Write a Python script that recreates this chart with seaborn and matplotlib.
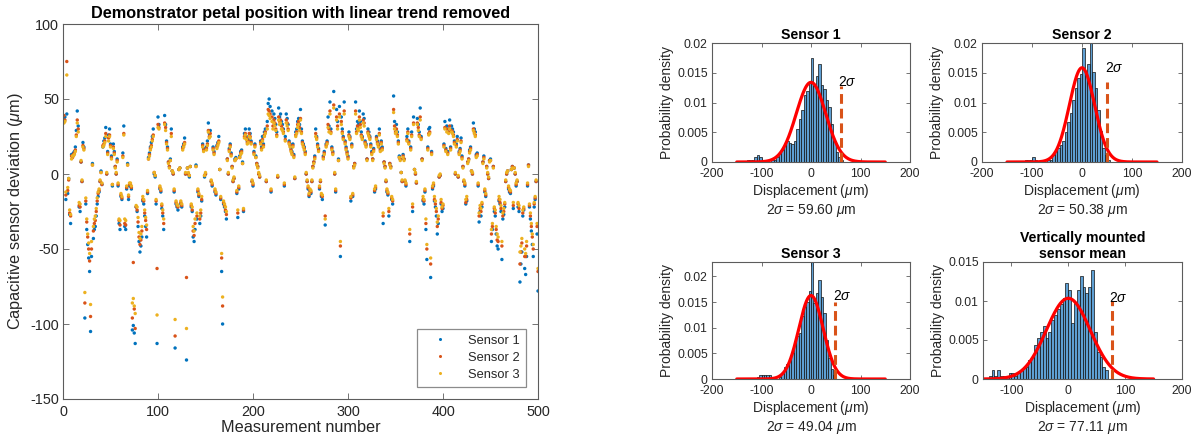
import numpy as np
import pandas as pd
import matplotlib
matplotlib.use("Agg")
import matplotlib.pyplot as plt
import matplotlib.ticker as mticker
from matplotlib.lines import Line2D
import seaborn as sns

# ---------------- data ----------------
measurement = list(range(1, 501))

sensor1 = [
    37, 38, -17, 40, -13, -3, -27, -33, 13, 12,
    14, 15, 18, 29, 42, 32, -22, -25, 8, -5,
    21, 18, -96, -20, -37, -47, -56, -65, -105, -55,
    7, -43, -37, -35, -28, -20, -15, -12, -5, 2,
    -7, 18, 22, 24, 31, 0, 15, 26, 30, 20,
    12, -8, 20, 15, 5, 0, 10, -8, -33, -37,
    -15, -17, 14, 32, -35, -37, -10, 7, -17, -8,
    -8, -10, -104, -101, -106, -113, -22, -25, -35, -45,
    -52, -48, -42, -18, -20, -28, -35, -42, -13, 11,
    14, 18, 21, 25, 30, 0, -2, -20, -113, 38,
    33, -10, -12, -23, -28, -37, 39, 33, 22, 18,
    8, 5, 10, 30, 2, 0, -12, -116, -20, -22,
    -24, 3, 4, -20, -22, 18, 20, 24, 0, -124,
    4, 0, -2, 5, -22, -25, -42, -45, -37, 6,
    -30, -12, -15, -33, -28, -18, 20, 17, -2, 0,
    18, 22, 34, 27, 29, -5, -8, 18, 15, -12,
    -14, 19, 21, 25, 3, -17, -65, -100, -20, -22,
    -25, -30, 10, 0, 17, 20, 14, 5, -5, -3,
    10, 11, -13, -29, -10, 12, 15, 16, 8, -25,
    27, 30, 25, 22, 23, 30, 27, 22, -5, -8,
    15, 20, 12, 7, 5, 0, -2, 22, 18, 25,
    20, 28, 30, -5, 35, 47, 50, 45, -12, 42,
    35, 40, 37, 33, 28, -2, 44, 38, 40, 35,
    33, 30, -8, 25, 40, 37, 33, 22, 20, 17,
    15, 20, 13, -3, 28, 30, 35, 37, 33, 43,
    30, 22, 20, 18, 15, 0, -5, -10, -15, -12,
    -13, -5, 5, 8, 12, 30, 25, 20, 17, -10,
    -5, -15, -17, 12, 15, -34, 20, 22, 38, 32,
    48, 30, 18, 15, 55, 0, -12, 43, 35, 10,
    45, -55, 38, 30, 25, 48, 22, 18, 15, 12,
    28, 25, -18, 20, -15, 5, 7, 48, 30, 35,
    33, 42, 35, 28, 25, 40, 37, 22, 20, 10,
    30, 28, 25, 20, 15, 10, 17, -12, -10, 25,
    22, 20, 30, 17, 22, 18, -33, 8, 5, -5,
    -12, -14, -28, 7, 5, -17, -20, 52, 35, 30,
    33, 28, 22, 12, 10, 1, -5, 13, 10, -5,
    -8, 25, 30, 22, -45, 18, 28, -25, 38, 3,
    0, -6, 37, 33, 28, 44, 25, 10, -18, -20,
    -12, -37, -57, 18, 30, 31, -69, 15, -10, -8,
    -18, -22, -28, -40, -33, -2, -1, -20, -25, -23,
    20, 35, 17, 32, 15, 30, 36, 18, 32, 30,
    28, 22, 0, 20, 25, -2, 15, 17, 24, 12,
    5, -5, -8, -20, -18, 8, 10, 16, 18, 2,
    0, 34, 30, 28, 13, 14, -8, -32, -25, -28,
    -22, 8, 12, -12, -15, 5, 0, -3, 9, 10,
    -45, -37, 5, -25, -28, -40, -48, -50, -18, -20,
    -25, -57, -30, -27, -22, -5, 0, 2, -10, -12,
    -13, 3, 5, -23, 4, 0, -8, -5, -22, -25,
    -72, -60, -52, -28, -24, -63, -67, -55, -8, 6,
    -22, -30, -38, -47, -55, -22, -17, -5, -40, -78,
]

sensor2 = [
    39, 36, -14, 75, -11, -4, -26, -28, 12, 11,
    13, 14, 16, 26, 36, 30, -21, -22, 8, -5,
    19, 17, -86, -18, -32, -42, -50, -58, -95, -50,
    6, -38, -33, -31, -25, -18, -13, -11, -5, 1,
    -7, 19, 20, 22, 27, 0, 14, 24, 26, 19,
    11, -7, 18, 14, 5, 0, 9, -7, -31, -34,
    -14, -16, 12, 27, -33, -34, -9, 6, -15, -7,
    -7, -9, -96, -59, -90, -103, -22, -24, -32, -42,
    -47, -44, -38, -17, -18, -26, -31, -37, -12, 10,
    13, 17, 19, 23, 26, 1, -1, -18, -63, 33,
    31, -9, -11, -21, -26, -33, 34, 31, 21, 17,
    8, 5, 9, 27, 2, 0, -11, -108, -19, -21,
    -22, 3, 4, -19, -21, 17, 19, 21, 0, -69,
    4, 0, -1, 5, -21, -24, -38, -41, -33, 5,
    -28, -11, -14, -30, -26, -17, 19, 16, -1, 0,
    17, 20, 29, 25, 27, -5, -7, 17, 14, -11,
    -13, 18, 20, 22, 3, -16, -56, -88, -19, -21,
    -24, -27, 10, 0, 16, 19, 13, 5, -5, -3,
    9, 10, -12, -26, -9, 11, 14, 15, 7, -24,
    25, 27, 24, 21, 22, 27, 25, 21, -5, -7,
    14, 19, 11, 7, 5, 0, -2, 21, 17, 23,
    19, 26, 28, -5, 32, 43, 42, 40, -11, 38,
    32, 36, 34, 30, 26, -2, 38, 35, 36, 32,
    30, 28, -7, 23, 36, 34, 30, 21, 19, 16,
    14, 19, 12, -3, 26, 28, 33, 35, 31, 37,
    28, 21, 19, 17, 14, 0, -5, -9, -14, -11,
    -12, -5, 5, 8, 11, 27, 24, 19, 16, -9,
    -5, -14, -15, 11, 14, -28, 19, 21, 33, 30,
    42, 28, 17, 14, 46, 0, -11, 38, 32, 9,
    40, -48, 35, 28, 24, 42, 21, 17, 14, 11,
    26, 24, -16, 19, -14, 5, 7, 42, 28, 32,
    31, 38, 33, 26, 24, 36, 34, 21, 19, 10,
    28, 26, 24, 19, 14, 10, 16, -11, -9, 24,
    21, 19, 27, 16, 21, 17, -28, 8, 5, -5,
    -11, -13, -25, 7, 5, -16, -18, 43, 32, 28,
    30, 26, 21, 11, 10, 1, -5, 12, 10, -5,
    -7, 23, 28, 21, -40, 17, 26, -22, 34, 3,
    0, -6, 34, 31, 26, 38, 24, 10, -17, -18,
    -11, -33, -50, 17, 27, 28, -60, 14, -9, -7,
    -17, -20, -25, -35, -30, -2, -1, -19, -23, -21,
    19, 31, 16, 30, 14, 28, 32, 17, 29, 28,
    26, 21, 0, 19, 23, -2, 14, 16, 22, 11,
    5, -5, -7, -19, -17, 8, 10, 15, 17, 2,
    0, 30, 28, 26, 12, 13, -7, -28, -23, -25,
    -20, 8, 11, -11, -14, 5, 0, -3, 9, 9,
    -40, -35, 5, -23, -26, -37, -44, -45, -17, -19,
    -23, -48, -28, -25, -20, -5, 0, 2, -9, -11,
    -12, 3, 5, -21, 4, 0, -7, -5, -20, -23,
    -60, -52, -46, -26, -23, -55, -55, -48, -7, 6,
    -21, -28, -35, -42, -50, -20, -16, -5, -35, -65,
]

sensor3 = [
    34, 35, -12, 66, -9, -3, -24, -27, 10, 12,
    12, 13, 15, 25, 34, 28, -19, -20, 9, -4,
    18, 16, -79, -16, -30, -40, -46, -53, -87, -45,
    6, -35, -30, -28, -23, -16, -12, -10, -4, 1,
    -6, 18, 19, 21, 25, 1, 13, 22, 25, 18,
    10, -7, 17, 13, 4, 1, 8, -6, -30, -31,
    -13, -15, 11, 26, -30, -31, -8, 6, -14, -6,
    -6, -8, -86, -83, -88, -93, -21, -22, -29, -39,
    -43, -40, -35, -15, -17, -24, -29, -34, -11, 10,
    12, 16, 18, 22, 25, 1, -1, -17, -94, 31,
    30, -8, -10, -20, -24, -30, 33, 29, 20, 16,
    7, 4, 9, 25, 2, 1, -10, -97, -18, -20,
    -21, 3, 4, -18, -20, 16, 18, 20, 1, -103,
    4, 1, -1, 5, -20, -22, -35, -38, -30, 5,
    -26, -10, -13, -28, -24, -15, 18, 15, -1, 1,
    16, 19, 28, 24, 25, -4, -6, 16, 13, -10,
    -12, 17, 19, 21, 3, -15, -53, -82, -18, -20,
    -22, -25, 9, 1, 15, 18, 12, 4, -4, -2,
    9, 10, -11, -24, -8, 11, 13, 14, 7, -23,
    24, 26, 23, 20, 21, 25, 24, 20, -4, -6,
    13, 18, 11, 6, 4, 1, -1, 20, 16, 22,
    18, 25, 27, -4, 30, 40, 39, 37, -10, 35,
    30, 34, 32, 29, 25, -1, 36, 33, 34, 30,
    29, 27, -6, 22, 34, 32, 29, 20, 18, 15,
    13, 18, 11, -2, 25, 27, 31, 33, 29, 36,
    27, 20, 18, 16, 13, 1, -4, -8, -13, -10,
    -11, -4, 4, 7, 10, 25, 23, 18, 15, -8,
    -4, -13, -14, 10, 13, -30, 18, 20, 31, 28,
    40, 27, 16, 13, 44, 1, -10, 36, 30, 9,
    38, -45, 33, 27, 23, 40, 20, 16, 13, 10,
    25, 23, -15, 18, -13, 4, 6, 40, 27, 30,
    29, 36, 31, 25, 23, 34, 32, 20, 18, 9,
    27, 25, 23, 18, 13, 9, 15, -10, -8, 23,
    20, 18, 26, 15, 20, 16, -26, 7, 4, -4,
    -10, -12, -23, 6, 4, -15, -17, 41, 30, 27,
    28, 25, 20, 11, 9, 1, -4, 11, 9, -4,
    -6, 22, 27, 20, -37, 16, 25, -20, 33, 3,
    1, -5, 33, 29, 25, 36, 23, 9, -15, -17,
    -10, -30, -47, 16, 26, 27, -56, 13, -8, -6,
    -15, -18, -23, -32, -28, -1, 0, -17, -22, -20,
    18, 30, 15, 28, 13, 27, 30, 16, 28, 27,
    25, 20, 1, 18, 22, -1, 13, 15, 21, 10,
    4, -4, -6, -17, -15, 7, 9, 14, 16, 2,
    1, 29, 27, 25, 11, 12, -6, -26, -21, -23,
    -19, 7, 10, -10, -13, 4, 1, -2, 8, 9,
    -37, -33, 4, -22, -24, -35, -40, -42, -15, -17,
    -21, -45, -26, -23, -19, -4, 1, 2, -8, -10,
    -11, 3, 4, -19, 4, 1, -6, -4, -19, -21,
    -52, -48, -43, -24, -22, -50, -53, -45, -6, 5,
    -20, -26, -33, -40, -47, -19, -15, -4, -33, -63,
]

sensor_names = ["Sensor 1", "Sensor 2", "Sensor 3"]

# histogram data (bin width in um, first bin left edge, density per bin)
bin_width = 5
hist1_start = -130
hist1_density = [0.0004, 0.0004, 0.0004, 0.0008, 0.0012, 0.0008, 0.0004, 0, 0, 0,
                 0.0004, 0.0004, 0.0008, 0.0016, 0.0020, 0.0028, 0.0036, 0.0032, 0.0030, 0.0036,
                 0.0056, 0.0072, 0.0088, 0.0112, 0.0120, 0.0132, 0.0175, 0.0128, 0.0144, 0.0165,
                 0.0130, 0.0122, 0.0105, 0.0092, 0.0064, 0.0036, 0.0016, 0.0008, 0.0004]
hist2_start = -115
hist2_density = [0.0004, 0.0004, 0.0004, 0.0008, 0.0004, 0, 0, 0, 0, 0.0004,
                 0.0004, 0.0012, 0.0020, 0.0024, 0.0028, 0.0036, 0.0050, 0.0068, 0.0082, 0.0104,
                 0.0124, 0.0142, 0.0148, 0.0192, 0.0148, 0.0165, 0.0215, 0.0152, 0.0124, 0.0088,
                 0.0052, 0.0024, 0.0012, 0.0004]
hist3_start = -110
hist3_density = [0.0004, 0.0008, 0.0008, 0.0008, 0.0008, 0.0008, 0.0004, 0, 0, 0.0004,
                 0.0012, 0.0024, 0.0030, 0.0040, 0.0050, 0.0075, 0.0084, 0.0090, 0.0122, 0.0140,
                 0.0150, 0.0172, 0.0228, 0.0148, 0.0168, 0.0192, 0.0160, 0.0128, 0.0076, 0.0040,
                 0.0020, 0.0008]
hist4_start = -140
hist4_density = [0.0004, 0.0012, 0.0004, 0.0012, 0.0004, 0.0004, 0.0004, 0.0008, 0.0008, 0.0004,
                 0.0008, 0.0012, 0.0016, 0.0016, 0.0024, 0.0028, 0.0044, 0.0052, 0.0060, 0.0068,
                 0.0052, 0.0060, 0.0076, 0.0082, 0.0090, 0.0096, 0.0104, 0.0123, 0.0114, 0.0072,
                 0.0098, 0.0114, 0.0132, 0.0118, 0.0110, 0.0118, 0.0140, 0.0060, 0.0034, 0.0028,
                 0.0016, 0.0012]

hist_starts = [hist1_start, hist2_start, hist3_start, hist4_start]
hist_densities = [hist1_density, hist2_density, hist3_density, hist4_density]
two_sigma = [59.60, 50.38, 49.04, 77.11]
two_sigma_line_top = [0.0127, 0.0134, 0.0150, 0.0100]
panel_titles = ["Sensor 1", "Sensor 2", "Sensor 3", "Vertically mounted\nsensor mean"]
panel_xlims = [(-200, 200), (-200, 200), (-200, 200), (-150, 200)]
panel_xticks = [[-200, -100, 0, 100, 200]] * 3 + [[-100, 0, 100, 200]]
panel_ylims = [(0, 0.02), (0, 0.02), (0, 0.0228), (0, 0.015)]
panel_yticks = [[0, 0.005, 0.01, 0.015, 0.02]] * 3 + [[0, 0.005, 0.01, 0.015]]
panel_yticklabels = [["0", "0.005", "0.01", "0.015", "0.02"]] * 3 + [["0", "0.005", "0.01", "0.015"]]
fit_x = np.linspace(-150, 150, 301)

# ---------------- style ----------------
sns.set_style("ticks")
plt.rcParams["font.family"] = ["Liberation Sans", "DejaVu Sans"]
plt.rcParams["mathtext.fontset"] = "custom"
plt.rcParams["mathtext.rm"] = "Liberation Sans"
plt.rcParams["mathtext.it"] = "Liberation Sans:italic"
plt.rcParams["mathtext.bf"] = "Liberation Sans:bold"
plt.rcParams["axes.unicode_minus"] = False

TXT = "#262626"
AXC = "#5c5c5c"
mat_colors = ["#0072BD", "#D95319", "#EDB120"]

fig = plt.figure(figsize=(11.94, 4.45), dpi=100)
W, H = 1194, 445


def add_ax(left, top, right, bottom):
    return fig.add_axes([left / W, 1 - bottom / H, (right - left) / W, (bottom - top) / H])


def style_ax(ax, ticksize, ticklen, xpad=3):
    for sp in ax.spines.values():
        sp.set_color(AXC)
        sp.set_linewidth(0.8)
        sp.set_visible(True)
    ax.tick_params(direction="in", top=True, right=True, length=ticklen, width=0.6,
                   color=AXC, labelcolor=TXT, labelsize=ticksize, pad=3)
    ax.tick_params(axis="x", pad=xpad)


# ---------------- left scatter ----------------
ax = add_ax(63, 24, 538, 399)
df = pd.DataFrame({
    "Measurement": measurement * 3,
    "Deviation": sensor1 + sensor2 + sensor3,
    "Sensor": [sensor_names[0]] * 500 + [sensor_names[1]] * 500 + [sensor_names[2]] * 500,
})
sns.scatterplot(data=df, x="Measurement", y="Deviation", hue="Sensor", palette=mat_colors,
                s=6, linewidth=0, ax=ax, legend=False)
ax.set_xlim(0, 500)
ax.set_ylim(-150, 100)
ax.set_xticks([0, 100, 200, 300, 400, 500])
ax.set_yticks([-150, -100, -50, 0, 50, 100])
style_ax(ax, 10.4, 4, xpad=4)
ax.set_xlabel("Measurement number", fontsize=11.7, color=TXT, labelpad=1)
ax.set_ylabel(r"Capacitive sensor deviation ($\mu$m)", fontsize=11.7, color=TXT, labelpad=4)
ax.set_title("Demonstrator petal position with linear trend removed", fontsize=11.7,
             fontweight="bold", color="black", pad=4)
handles = [Line2D([], [], linestyle="none", marker="o", markersize=2.2, color=c,
                  markeredgewidth=0) for c in mat_colors]
leg = ax.legend(handles, sensor_names, loc="lower right", fontsize=9.3, frameon=True,
                fancybox=False, borderaxespad=0.9, handlelength=2.6, handletextpad=0.9,
                labelspacing=0.38, borderpad=0.5)
leg.get_frame().set_edgecolor("#6e6e6e")
leg.get_frame().set_linewidth(0.9)

# ---------------- right histograms ----------------
boxes = [(712, 43, 910, 162), (982, 43, 1182, 162), (712, 262, 910, 379), (983, 262, 1182, 379)]
for i, (l, t, r, b) in enumerate(boxes):
    hax = add_ax(l, t, r, b)
    dens = [float(v) for v in hist_densities[i]]
    edges = [float(hist_starts[i] + bin_width * k) for k in range(len(dens) + 1)]
    centers = [e + bin_width / 2 for e in edges[:-1]]
    hdf = pd.DataFrame({"Displacement": centers, "Density": dens})
    sns.histplot(data=hdf, x="Displacement", weights="Density", bins=edges, stat="count",
                 ax=hax, color="#5e9fd3", edgecolor="#111111", linewidth=0.5, alpha=1.0)
    sigma = two_sigma[i] / 2
    fit_y = np.exp(-0.5 * (fit_x / sigma) ** 2) / (sigma * np.sqrt(2 * np.pi))
    sns.lineplot(x=fit_x, y=fit_y, ax=hax, color="red", linewidth=2.3)
    hax.plot([two_sigma[i], two_sigma[i]], [0, two_sigma_line_top[i]], color="#D95319",
             linewidth=2.2, linestyle=(0, (3.2, 1.6)))
    peak = 1 / (sigma * np.sqrt(2 * np.pi))
    hax.text(two_sigma[i] - 5, peak, r"2$\sigma$", ha="left", va="center", fontsize=10,
             color="black")
    hax.set_xlim(*panel_xlims[i])
    hax.set_ylim(*panel_ylims[i])
    hax.set_xticks(panel_xticks[i])
    hax.set_yticks(panel_yticks[i])
    hax.yaxis.set_major_formatter(mticker.FixedFormatter(panel_yticklabels[i]))
    style_ax(hax, 8.7, 3, xpad=4.5)
    hax.set_ylabel("Probability density", fontsize=10, color=TXT, labelpad=2)
    hax.set_xlabel("Displacement ($\\mu$m)\n2$\\sigma$ = %.2f $\\mu$m" % two_sigma[i],
                   fontsize=10, color=TXT, labelpad=1, linespacing=1.2)
    hax.set_title(panel_titles[i], fontsize=10.2, fontweight="bold", color="black", pad=3,
                  linespacing=1.15)

fig.savefig("out.png", dpi=100)
